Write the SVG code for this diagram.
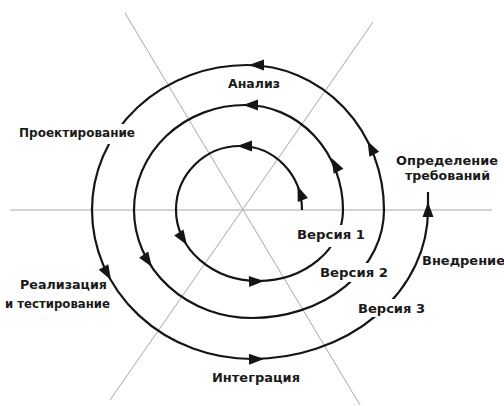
<svg xmlns="http://www.w3.org/2000/svg" xmlns:xlink="http://www.w3.org/1999/xlink" width="504" height="406" viewBox="0 0 504 406">
<style>
.axis{stroke:#a8a8a8;stroke-width:1;fill:none}
.sp{stroke:#151515;stroke-width:2.2;fill:none}
.ah{fill:#151515}
.lbl{font-family:"DejaVu Sans","Liberation Sans",sans-serif;font-weight:bold;font-size:11.5px;fill:#1a1a1a}
.bg{fill:#ffffff}
</style>
<defs>
<path id="ah" d="M0,0 L-15,-5.5 L-15,5.5 Z"/>
</defs>
<rect width="504" height="406" fill="#ffffff"/>
<g id="axes">
<line class="axis" x1="10" y1="210" x2="492" y2="210"/>
<line class="axis" x1="125" y1="13" x2="360" y2="405"/>
<line class="axis" x1="373" y1="22" x2="110" y2="400"/>
</g>
<g id="connectors">
<path class="sp" d="M302,210 A62,64 0 0 0 240,146 A64,64 0 0 0 176,210 A82,71 0 0 0 258,281 A85,71 0 0 0 343,210 A98,105 0 0 0 245,105 A111,105 0 0 0 134,210 A118,108 0 0 0 252,318 A132,108 0 0 0 384,210 A137,145 0 0 0 247,65 A155,145 0 0 0 92,210 A160,149 0 0 0 252,359 A176,149 0 0 0 428,210 L428,192"/>
<g class="ah">
<use xlink:href="#ah" transform="translate(297.5,186) rotate(-111)"/>
<use xlink:href="#ah" transform="translate(237,146) rotate(180)"/>
<use xlink:href="#ah" transform="translate(187,245) rotate(57)"/>
<use xlink:href="#ah" transform="translate(264,281) rotate(-2)"/>
<use xlink:href="#ah" transform="translate(331.5,158) rotate(-118)"/>
<use xlink:href="#ah" transform="translate(243,105) rotate(180)"/>
<use xlink:href="#ah" transform="translate(152,267) rotate(56)"/>
<use xlink:href="#ah" transform="translate(367.5,141) rotate(-117)"/>
<use xlink:href="#ah" transform="translate(249,65) rotate(180)"/>
<use xlink:href="#ah" transform="translate(111,280) rotate(60)"/>
<use xlink:href="#ah" transform="translate(264,359) rotate(-1)"/>
<use xlink:href="#ah" transform="translate(428,202) rotate(-90)"/>
</g>
</g>
<g id="analysis"><text class="lbl" x="228" y="88" textLength="52" lengthAdjust="spacingAndGlyphs">Анализ</text></g>
<g id="design"><rect class="bg" x="17" y="124" width="120" height="20"/><text class="lbl" x="19" y="137" textLength="116" lengthAdjust="spacingAndGlyphs">Проектирование</text></g>
<g id="implementation"><text class="lbl" x="20" y="289" textLength="87" lengthAdjust="spacingAndGlyphs">Реализация</text><text class="lbl" x="5" y="308" textLength="105" lengthAdjust="spacingAndGlyphs">и тестирование</text></g>
<g id="requirements"><text class="lbl" x="396" y="165" textLength="102" lengthAdjust="spacingAndGlyphs">Определение</text><text class="lbl" x="405" y="180" textLength="85" lengthAdjust="spacingAndGlyphs">требований</text></g>
<g id="deployment"><text class="lbl" x="422" y="265" textLength="83" lengthAdjust="spacingAndGlyphs">Внедрение</text></g>
<g id="v1"><rect class="bg" x="295" y="225" width="72" height="22"/><text class="lbl" x="297" y="239" textLength="68" lengthAdjust="spacingAndGlyphs">Версия 1</text></g>
<g id="v2"><rect class="bg" x="318" y="263" width="72" height="19"/><text class="lbl" x="320" y="277" textLength="68" lengthAdjust="spacingAndGlyphs">Версия 2</text></g>
<g id="v3"><rect class="bg" x="356" y="299" width="71" height="18"/><text class="lbl" x="358" y="313" textLength="67" lengthAdjust="spacingAndGlyphs">Версия 3</text></g>
<g id="integration"><text class="lbl" x="212" y="382" textLength="88" lengthAdjust="spacingAndGlyphs">Интеграция</text></g>
</svg>
